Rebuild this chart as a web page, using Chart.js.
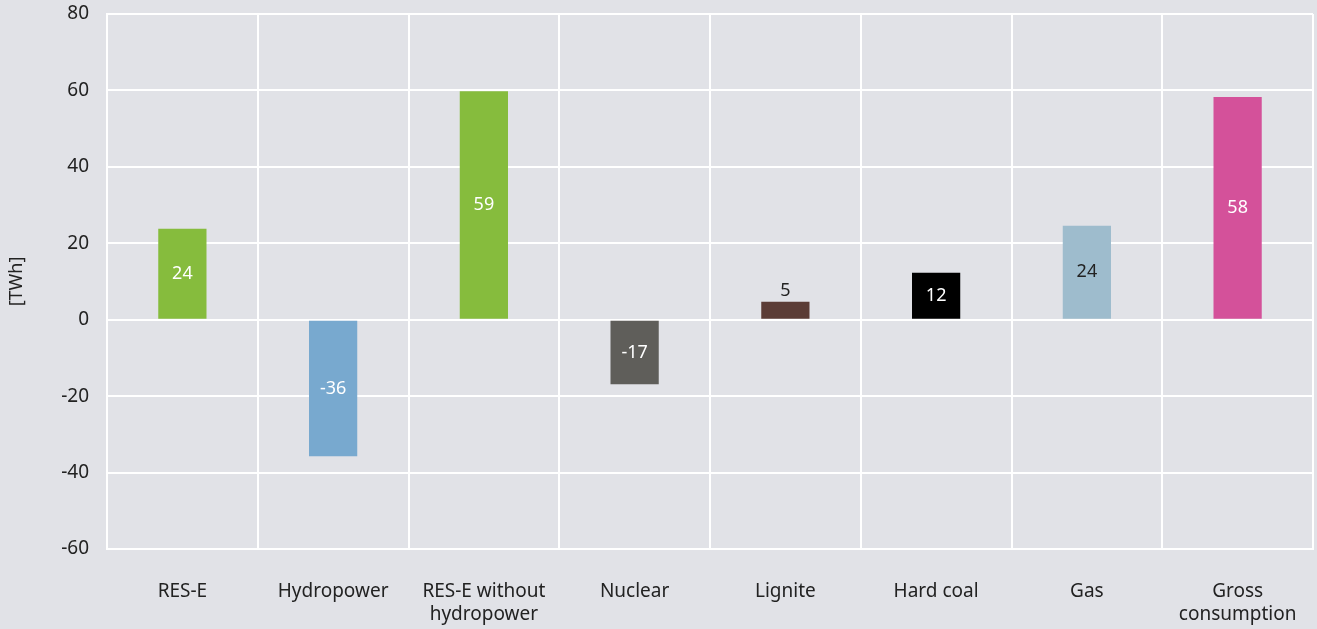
<!DOCTYPE html>
<html>
<head>
<meta charset="utf-8">
<script src="https://cdn.jsdelivr.net/npm/chart.js@4.4.1/dist/chart.umd.min.js"></script>
<style>
  html, body { margin: 0; padding: 0; background: #e1e2e7; }
  #wrap { width: 1317px; height: 629px; position: relative; }
</style>
</head>
<body>
<div id="wrap"><canvas id="chart"></canvas></div>
<script>
// --- DATA ---
const categories = ['RES-E', 'Hydropower', ['RES-E without', 'hydropower'], 'Nuclear', 'Lignite', 'Hard coal', 'Gas', ['Gross', 'consumption']];
const changeTWh = [23.8, -35.7, 59.8, -16.9, 4.7, 12.3, 24.6, 58.3];
const valueLabels = ['24', '-36', '59', '-17', '5', '12', '24', '58'];
const yTicks = [-60, -40, -20, 0, 20, 40, 60, 80];

const barColors = ['#86bc3d', '#78a9cf', '#86bc3d', '#5f5e5a', '#5b3c36', '#000000', '#9ebccd', '#d4519a'];
const labelColors = ['#ffffff', '#ffffff', '#ffffff', '#ffffff', '#222222', '#ffffff', '#222222', '#ffffff'];

const FONT = '"Noto Sans", sans-serif';
const TEXT = '#222222';

// draws the value on each bar (above the bar when it is too short)
const valueLabelPlugin = {
    id: 'valueLabels',
    afterDatasetsDraw(chart) {
        const ctx = chart.ctx;
        const meta = chart.getDatasetMeta(0);
        ctx.save();
        ctx.font = '18px ' + FONT;
        ctx.textAlign = 'center';
        ctx.textBaseline = 'middle';
        meta.data.forEach((bar, i) => {
            const top = Math.min(bar.y, bar.base);
            const bottom = Math.max(bar.y, bar.base);
            let y = (top + bottom) / 2;
            if (bottom - top < 24) y = top - 11;
            ctx.fillStyle = labelColors[i];
            ctx.fillText(valueLabels[i], bar.x, y);
        });
        ctx.restore();
    }
};

const ctx = document.getElementById('chart').getContext('2d');
new Chart(ctx, {
    type: 'bar',
    data: {
        labels: categories,
        datasets: [{
            data: changeTWh,
            backgroundColor: barColors,
            barPercentage: 0.32,
            categoryPercentage: 1.0
        }]
    },
    options: {
        responsive: true,
        maintainAspectRatio: false,
        animation: false,
        layout: { padding: { left: 0, right: 4, top: 14, bottom: 0 } },
        plugins: {
            legend: { display: false },
            tooltip: { enabled: false }
        },
        scales: {
            x: {
                grid: { color: '#ffffff', lineWidth: 2, offset: true, drawTicks: false },
                border: { color: '#ffffff', width: 2 },
                ticks: { color: TEXT, font: { family: FONT, size: 19 }, padding: 31, maxRotation: 0 },
                afterFit(scale) {
                    scale.height = 80;
                    scale.paddingLeft = 0;
                    scale.paddingRight = 0;
                }
            },
            y: {
                min: -60,
                max: 80,
                afterBuildTicks(scale) { scale.ticks = yTicks.map(v => ({ value: v })); },
                grid: { color: '#ffffff', lineWidth: 2, drawTicks: false },
                border: { color: '#ffffff', width: 2 },
                ticks: { color: TEXT, font: { family: FONT, size: 19 }, padding: 18 },
                title: { display: true, text: '[TWh]', color: TEXT, font: { family: FONT, size: 18 }, padding: { top: 6, bottom: 0 } },
                afterFit(scale) {
                    scale.width = 107;
                    scale.paddingTop = 0;
                    scale.paddingBottom = 0;
                }
            }
        }
    },
    plugins: [valueLabelPlugin]
});
</script>
</body>
</html>
